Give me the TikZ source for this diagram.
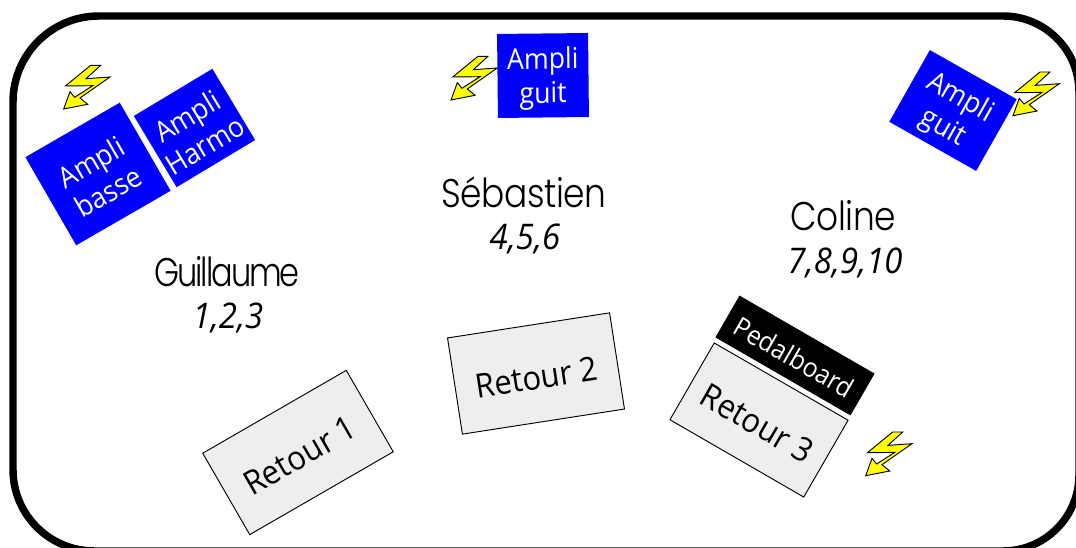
\documentclass[tikz,border=0pt]{standalone}
\usepackage{fontspec}
\setmainfont[FakeStretch=0.93]{Open Sans}
\newfontfamily\namefont[UprightFont=* Light,FakeStretch=0.86,LetterSpace=-1]{Poppins}
\newfontfamily\namefontT[UprightFont=* Light,FakeStretch=0.8,LetterSpace=-5]{Poppins}
\definecolor{amp}{RGB}{0,0,255}
\definecolor{ret}{RGB}{238,238,238}
\definecolor{bolt}{RGB}{255,255,0}
\tikzset{
 ampbox/.style={fill=amp,text=white,align=center,inner sep=0pt,font=\fontsize{21.5}{25.5}\selectfont},
 retbox/.style={draw=black,line width=0.7pt,fill=ret,text=black,inner sep=0pt,minimum width=#1,font=\fontsize{25}{28}\selectfont},
 pedbox/.style={fill=black,text=white,inner sep=0pt,font=\fontsize{20}{25}\selectfont},
 personname/.style={inner sep=0pt,font=\namefont\fontsize{30}{34}\selectfont},
 personnameT/.style={inner sep=0pt,font=\namefontT\fontsize{30}{34}\selectfont},
 nums/.style={inner sep=0pt,font=\itshape\fontsize{26.5}{30}\selectfont},
 boltshape/.style={draw=black,line width=0.7pt,fill=bolt,line join=miter}
}
\newcommand{\boltat}[2]{\draw[boltshape,shift={(#1,#2)}] (27,-43.7) -- (37,-43.7) -- (22.3,-30.3) -- (46.3,-32) -- (16.3,-11) -- (24,-4.7) -- (0,0) -- (6.3,-17.3) -- (11,-11.7) -- (29,-23.3) -- (1.7,-23) -- cycle;}
\newcommand{\topup}[1]{\rule{0pt}{#1}}
\begin{document}
\begin{tikzpicture}[x=0.75pt,y=-0.75pt]
\useasboundingbox (0,0) rectangle (1076,548);
\fill[white] (0,0) rectangle (1076,548);
\draw[line width=5.6pt,line join=round] (13,300) [rounded corners=64.5pt] -- (13,16) [rounded corners=57pt] -- (1079,16) -- (1079,551) [rounded corners=61pt] -- (13,551) -- cycle;

\boltat{63.7}{109}
\boltat{451}{100}
\boltat{1013}{115.7}
\boltat{865.7}{475.7}

\node[ampbox,minimum width=81.75pt,minimum height=76.3pt,rotate=30] (basse) at (98,174) {\topup{21pt}Ampli\\basse};
\node[ampbox,minimum width=68.7pt,minimum height=62.3pt,rotate=31] (harmo) at (194.5,128) {\topup{21pt}Ampli\\Harmo};
\node[ampbox,minimum width=68.25pt,minimum height=63pt,rotate=0.6] (guitA) at (543,75.5) {\topup{21pt}Ampli\\guit};
\node[ampbox,minimum width=74.85pt,minimum height=61.8pt,rotate=-29.5] (guitB) at (953,110.5) {\topup{21pt}Ampli\\guit};
\node[pedbox,minimum width=117pt,minimum height=36.2pt,rotate=-30] (pedal) at (795,355.5) {\topup{18pt}Pedalboard};
\node[retbox=115.9pt,minimum height=66.5pt,rotate=-30] (r3) at (759,420) {\topup{23.5pt}Retour 3};
\node[retbox=124.3pt,minimum height=70.5pt,rotate=30] (r1) at (298,452.5) {\topup{23.5pt}Retour 1};
\node[retbox=123pt,minimum height=73pt,rotate=8.8] (r2) at (536,373.5) {\topup{23.5pt}Retour 2};

\node[personnameT] (guillaume) at (227,272) {Guillaume};
\node[personname] (sebastien) at (524,192) {Sébastien};
\node[personname] (coline) at (843,216) {Coline};
\node[nums] (n1) at (228,318) {1,2,3};
\node[nums] (n2) at (525,239) {4,5,6};
\node[nums] (n3) at (845,263) {7,8,9,10};
\end{tikzpicture}
\end{document}
